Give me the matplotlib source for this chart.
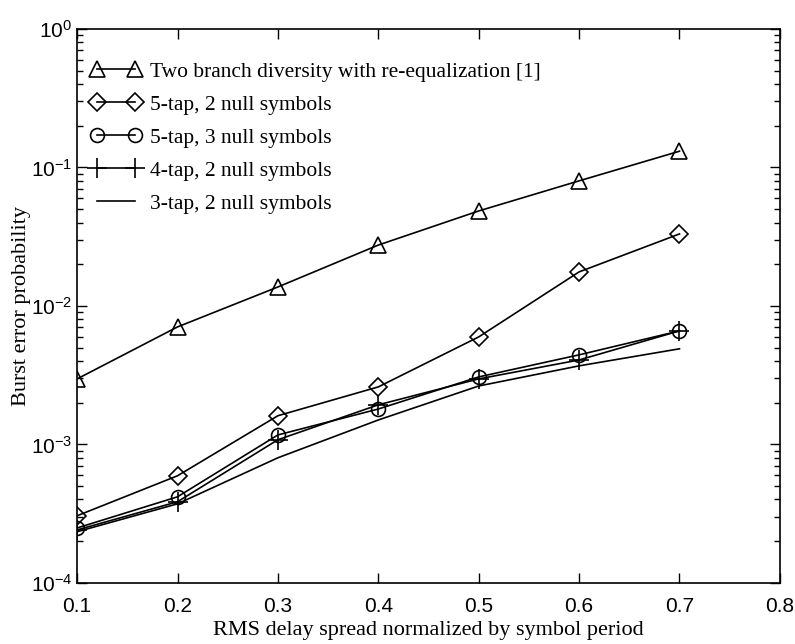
import numpy as np
import matplotlib
matplotlib.use("Agg")
import matplotlib.pyplot as plt
from matplotlib.ticker import LogLocator, FixedLocator

plt.rcParams['mathtext.fontset'] = 'custom'
plt.rcParams['mathtext.rm'] = 'Liberation Sans'
plt.rcParams['mathtext.it'] = 'Liberation Sans'
plt.rcParams['font.family'] = 'Liberation Sans'

# delay spread (normalized)
x = [0.1, 0.2, 0.3, 0.4, 0.5, 0.6, 0.7]

# burst error probabilities
two_branch = [2.97e-3, 7.05e-3, 1.37e-2, 2.75e-2, 4.85e-2, 8.0e-2, 1.31e-1]
tap5_null2 = [3.05e-4, 5.93e-4, 1.61e-3, 2.60e-3, 5.97e-3, 1.76e-2, 3.31e-2]
tap5_null3 = [2.49e-4, 4.18e-4, 1.17e-3, 1.80e-3, 3.07e-3, 4.43e-3, 6.6e-3]
tap4_null2 = [2.41e-4, 3.85e-4, 1.08e-3, 1.93e-3, 2.97e-3, 4.07e-3, 6.6e-3]
tap3_null2 = [2.34e-4, 3.72e-4, 8.0e-4, 1.5e-3, 2.64e-3, 3.69e-3, 4.9e-3]

labels = ["Two branch diversity with re-equalization [1]",
          "5-tap, 2 null symbols",
          "5-tap, 3 null symbols",
          "4-tap, 2 null symbols",
          "3-tap, 2 null symbols"]

fig = plt.figure(figsize=(7.95, 6.44), dpi=100)
ax = fig.add_axes([0.097, 0.095, 0.884, 0.86])

kw = dict(color='black', lw=1.2, mfc='none', mec='black', mew=1.2)
ax.plot(x, two_branch, marker='^', ms=12, label=labels[0], **kw)
ax.plot(x, tap5_null2, marker='D', ms=9, label=labels[1], **kw)
ax.plot(x, tap5_null3, marker='o', ms=10, label=labels[2], **kw)
ax.plot(x, tap4_null2, marker='+', ms=14, label=labels[3], **kw)
ax.plot(x, tap3_null2, label=labels[4], **kw)

ax.set_yscale('log')
ax.set_xlim(0.1, 0.8)
ax.set_ylim(1e-4, 1e0)
ax.xaxis.set_major_locator(FixedLocator([0.1, 0.2, 0.3, 0.4, 0.5, 0.6, 0.7, 0.8]))
ax.yaxis.set_major_locator(LogLocator(base=10, numticks=10))
ax.yaxis.set_minor_locator(LogLocator(base=10, subs=np.arange(2, 10), numticks=20))
ax.tick_params(which='both', direction='in', top=True, right=True, labelsize=15)
ax.tick_params(which='major', length=7, width=1)
ax.tick_params(which='minor', length=4, width=1)
ax.tick_params(axis='x', pad=10)
for s in ax.spines.values():
    s.set_linewidth(1.2)

ax.set_xlabel("RMS delay spread normalized by symbol period",
              family='Liberation Serif', fontsize=16, labelpad=4)
ax.set_ylabel("Burst error probability", family='Liberation Serif', fontsize=16, labelpad=0)

leg = ax.legend(loc='upper left', frameon=False, prop={'family': 'Liberation Serif', 'size': 15.5},
                numpoints=2, handlelength=2.4, labelspacing=0.6, borderaxespad=0.3,
                handletextpad=0.4, bbox_to_anchor=(-0.003, 0.968))

fig.savefig("out.png", dpi=100)
